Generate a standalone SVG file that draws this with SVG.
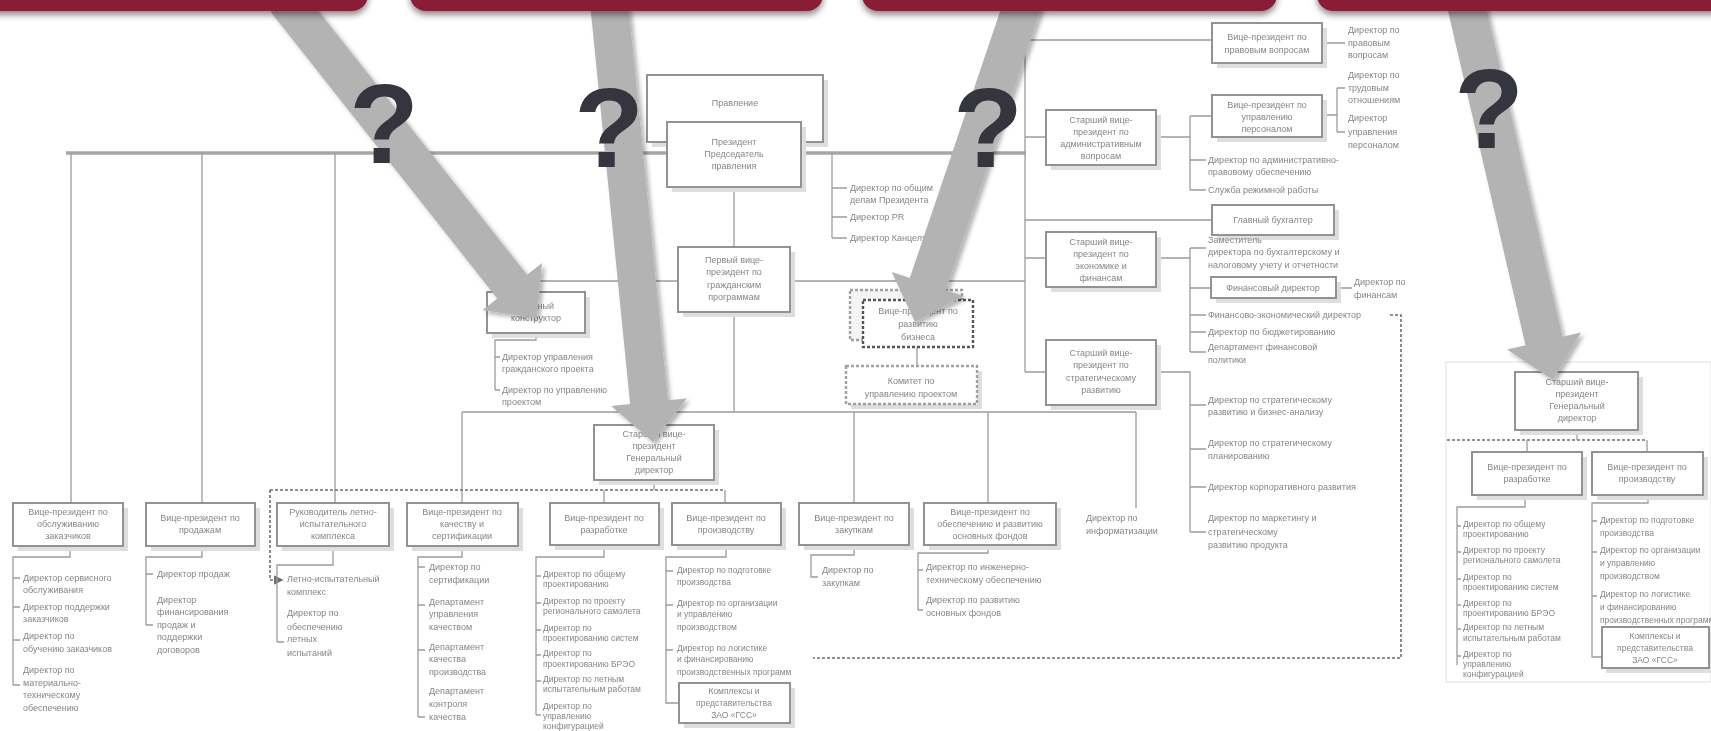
<svg xmlns="http://www.w3.org/2000/svg" width="1711" height="731" viewBox="0 0 1711 731">
<defs>
<style>
.ln{stroke:#9c9c9c;stroke-width:1.3;fill:none}
.thick{stroke:#a6a6a6;stroke-width:3.5;fill:none}
.dash{stroke:#6e6e6e;stroke-width:1.6;stroke-dasharray:3 2;fill:none}
.bx{fill:#fff;stroke:#8e8e8e;stroke-width:1.9}
.bxd{fill:#fff;stroke:#555;stroke-width:2.4;stroke-dasharray:3 2}
.bxd2{fill:#f4f4f4;stroke:#a0a0a0;stroke-width:2.4;stroke-dasharray:3 2}
.sh{fill:#dedede}
.t{font-family:"Liberation Sans",Arial,sans-serif;font-size:9px;fill:#868686}
.s{font-size:8.5px}
.c{text-anchor:middle}
.q{font-family:"Liberation Sans",Arial,sans-serif;font-weight:bold;font-size:114px;fill:#34353f;text-anchor:middle}
.arr{fill:#b3b3b3}
.ban{fill:#8b1a36}
</style>
<filter id="soft" x="-2%" y="-2%" width="104%" height="104%"><feGaussianBlur stdDeviation="0.6"/></filter>
<filter id="ash" x="-20%" y="-20%" width="140%" height="140%"><feDropShadow dx="3" dy="3" stdDeviation="2" flood-color="#000" flood-opacity="0.3"/></filter>
<filter id="bsh" x="-5%" y="-50%" width="110%" height="200%"><feDropShadow dx="0" dy="4" stdDeviation="3" flood-color="#000" flood-opacity="0.45"/></filter>
<marker id="ah" markerWidth="6" markerHeight="6" refX="5" refY="3" orient="auto"><path d="M0,0 L6,3 L0,6 z" fill="#6e6e6e"/></marker>
</defs>
<rect width="1711" height="731" fill="#fff"/>

<g id="chart" filter="url(#soft)">
<g id="connectors">
<path class="thick" d="M66,153 H1026"/>
<path class="ln" d="M71,153 V503 M202,153 V503 M335,153 V503"/>
<path class="ln" d="M734,187 V247 M734,312 V412"/>
<path class="ln" d="M462,412 H1136 M462,412 V503 M654,412 V425 M854,412 V503 M988,412 V503 M1136,412 V508"/>
<path class="ln" d="M536,292 V281 H1025"/>
<path class="ln" d="M917,281 V300 M917,347 V366"/>
<path class="ln" d="M536,333 V340 H495 V390 M495,357 H500 M495,390 H500"/>
<path class="ln" d="M832,153 V238 M832,188 H847 M832,217 H847 M832,238 H847"/>
<path class="ln" d="M1025,40 V372 M1025,40 H1212 M1025,137 H1046 M1025,220 H1212 M1025,258 H1046 M1025,372 H1046"/>
<path class="ln" d="M1156,137 H1190 M1190,116 V190 M1190,116 H1212 M1190,160 H1206 M1190,190 H1206"/>
<path class="ln" d="M1322,43 H1345 M1322,115 H1337 M1337,88 V132 M1337,88 H1345 M1337,132 H1345"/>
<path class="ln" d="M1156,258 H1190 M1190,248 V352 M1190,248 H1206 M1190,288 H1211 M1190,315 H1206 M1190,332 H1206 M1190,352 H1206 M1336,288 H1352"/>
<path class="ln" d="M1156,372 H1190 V532 M1190,405 H1206 M1190,449 H1206 M1190,487 H1206 M1190,532 H1206"/>
<path class="dash" d="M1390,315 H1401 V658 H813"/>
<path class="dash" d="M270,490 H725"/>
<path class="dash" d="M270,490 V580 H282" marker-end="url(#ah)"/>
<path class="ln" d="M654,480 V490 M604,490 V503 M725,490 V503"/>
<path class="ln" d="M70,546 V557 H13 V685 M13,578 H20 M13,607 H20 M13,640 H20 M13,685 H20"/>
<path class="ln" d="M202,546 V557 H146 V625 M146,574 H153 M146,625 H153"/>
<path class="ln" d="M333,546 V565 H277 V642 M277,642 H284"/>
<path class="ln" d="M462,546 V557 H418 V717 M418,567 H425 M418,605 H425 M418,650 H425 M418,717 H425"/>
<path class="ln" d="M604,546 V557 H536 V715 M536,576 H541 M536,603 H541 M536,630 H541 M536,655 H541 M536,681 H541 M536,715 H541"/>
<path class="ln" d="M726,546 V557 H666 V703 H679 M666,571 H673 M666,605 H673 M666,650 H673"/>
<path class="ln" d="M854,546 V555 H811 V577 H818"/>
<path class="ln" d="M988,546 V553 H918 V610 M918,570 H923 M918,610 H923"/>
<path class="dash" d="M1447,440 H1647"/>
<path class="ln" d="M1577,430 V440 M1527,440 V452 M1647,440 V452"/>
<path class="ln" d="M1525,495 V507 H1457 V665 M1457,526 H1461 M1457,552 H1461 M1457,579 H1461 M1457,605 H1461 M1457,629 H1461 M1457,656 H1461"/>
<path class="ln" d="M1648,495 V503 H1592 V657 H1602 M1592,521 H1597 M1592,552 H1597 M1592,596 H1597"/>
</g>

<g id="n-pravlenie"><rect class="sh" x="652" y="80" width="176" height="67"/><rect class="bx" x="647" y="75" width="176" height="67"/><text class="t c" x="735" y="106">Правление</text></g>
<g id="n-president"><rect class="sh" x="672" y="127" width="134" height="65"/><rect class="bx" x="667" y="122" width="134" height="65"/><text class="t c"><tspan x="734" y="145">Президент</tspan><tspan x="734" y="157">Председатель</tspan><tspan x="734" y="169">правления</tspan></text></g>
<g id="n-pres-staff"><text class="t"><tspan x="850" y="191">Директор по общим</tspan><tspan x="850" y="203">делам Президента</tspan><tspan x="850" y="220">Директор PR</tspan><tspan x="850" y="241">Директор Канцелярии</tspan></text></g>
<g id="n-first-vp"><rect class="sh" x="683" y="252" width="112" height="65"/><rect class="bx" x="678" y="247" width="112" height="65"/><text class="t c"><tspan x="734" y="263">Первый вице-</tspan><tspan x="734" y="275">президент по</tspan><tspan x="734" y="288">гражданским</tspan><tspan x="734" y="300">программам</tspan></text></g>
<g id="n-chief-designer"><rect class="sh" x="492" y="297" width="98" height="41"/><rect class="bx" x="487" y="292" width="98" height="41"/><text class="t c"><tspan x="536" y="309">Главный</tspan><tspan x="536" y="321">конструктор</tspan></text></g>
<g id="n-cd-staff"><text class="t"><tspan x="502" y="360">Директор управления</tspan><tspan x="502" y="372">гражданского проекта</tspan><tspan x="502" y="393">Директор по управлению</tspan><tspan x="502" y="405">проектом</tspan></text></g>
<g id="n-bizdev"><rect class="bxd2" x="850" y="290" width="112" height="50"/><rect class="bxd" x="863" y="300" width="110" height="47"/><text class="t c"><tspan x="918" y="314">Вице-президент по</tspan><tspan x="918" y="327">развитию</tspan><tspan x="918" y="340">бизнеса</tspan></text></g>
<g id="n-committee"><rect class="sh" x="851" y="371" width="131" height="38"/><rect class="bxd2" x="846" y="366" width="131" height="38" style="fill:#fff"/><text class="t c"><tspan x="911" y="384">Комитет по</tspan><tspan x="911" y="397">управлению проектом</tspan></text></g>

<g id="n-svp-admin"><rect class="sh" x="1051" y="115" width="110" height="55"/><rect class="bx" x="1046" y="110" width="110" height="55"/><text class="t c"><tspan x="1101" y="123">Старший вице-</tspan><tspan x="1101" y="135">президент по</tspan><tspan x="1101" y="147">административным</tspan><tspan x="1101" y="159">вопросам</tspan></text></g>
<g id="n-vp-legal"><rect class="sh" x="1217" y="28" width="110" height="40"/><rect class="bx" x="1212" y="23" width="110" height="40"/><text class="t c"><tspan x="1267" y="40">Вице-президент по</tspan><tspan x="1267" y="53">правовым вопросам</tspan></text></g>
<g id="n-legal-staff"><text class="t"><tspan x="1348" y="33">Директор по</tspan><tspan x="1348" y="46">правовым</tspan><tspan x="1348" y="58">вопросам</tspan></text></g>
<g id="n-vp-hr"><rect class="sh" x="1217" y="100" width="110" height="42"/><rect class="bx" x="1212" y="95" width="110" height="42"/><text class="t c"><tspan x="1267" y="108">Вице-президент по</tspan><tspan x="1267" y="120">управлению</tspan><tspan x="1267" y="132">персоналом</tspan></text></g>
<g id="n-hr-staff"><text class="t"><tspan x="1348" y="78">Директор по</tspan><tspan x="1348" y="91">трудовым</tspan><tspan x="1348" y="103">отношениям</tspan><tspan x="1348" y="121">Директор</tspan><tspan x="1348" y="135">управления</tspan><tspan x="1348" y="148">персоналом</tspan></text></g>
<g id="n-admin-staff"><text class="t"><tspan x="1208" y="163">Директор по административно-</tspan><tspan x="1208" y="175">правовому обеспечению</tspan><tspan x="1208" y="193">Служба режимной работы</tspan></text></g>
<g id="n-chief-acc"><rect class="sh" x="1217" y="210" width="122" height="30"/><rect class="bx" x="1212" y="205" width="122" height="30"/><text class="t c" x="1273" y="223">Главный бухгалтер</text></g>
<g id="n-svp-fin"><rect class="sh" x="1051" y="237" width="110" height="55"/><rect class="bx" x="1046" y="232" width="110" height="55"/><text class="t c"><tspan x="1101" y="245">Старший вице-</tspan><tspan x="1101" y="257">президент по</tspan><tspan x="1101" y="269">экономике и</tspan><tspan x="1101" y="281">финансам</tspan></text></g>
<g id="n-fin-staff"><text class="t"><tspan x="1208" y="243">Заместитель</tspan><tspan x="1208" y="255">директора по бухгалтерскому и</tspan><tspan x="1208" y="268">налоговому учету и отчетности</tspan><tspan x="1208" y="318">Финансово-экономический директор</tspan><tspan x="1208" y="335">Директор по бюджетированию</tspan><tspan x="1208" y="350">Департамент финансовой</tspan><tspan x="1208" y="363">политики</tspan></text></g>
<g id="n-cfo"><rect class="sh" x="1216" y="282" width="125" height="21"/><rect class="bx" x="1211" y="277" width="125" height="21"/><text class="t c" x="1273" y="291">Финансовый директор</text></g>
<g id="n-cfo-staff"><text class="t"><tspan x="1354" y="285">Директор по</tspan><tspan x="1354" y="298">финансам</tspan></text></g>
<g id="n-svp-strat"><rect class="sh" x="1051" y="345" width="110" height="65"/><rect class="bx" x="1046" y="340" width="110" height="65"/><text class="t c"><tspan x="1101" y="356">Старший вице-</tspan><tspan x="1101" y="368">президент по</tspan><tspan x="1101" y="381">стратегическому</tspan><tspan x="1101" y="393">развитию</tspan></text></g>
<g id="n-strat-staff"><text class="t"><tspan x="1208" y="403">Директор по стратегическому</tspan><tspan x="1208" y="415">развитию и бизнес-анализу</tspan><tspan x="1208" y="446">Директор по стратегическому</tspan><tspan x="1208" y="459">планированию</tspan><tspan x="1208" y="490">Директор корпоративного развития</tspan><tspan x="1208" y="521">Директор по маркетингу и</tspan><tspan x="1208" y="535">стратегическому</tspan><tspan x="1208" y="548">развитию продукта</tspan></text></g>
<g id="n-it"><text class="t"><tspan x="1086" y="521">Директор по</tspan><tspan x="1086" y="534">информатизации</tspan></text></g>

<g id="n-svp-gd"><rect class="sh" x="599" y="430" width="120" height="55"/><rect class="bx" x="594" y="425" width="120" height="55"/><text class="t c"><tspan x="654" y="437">Старший вице-</tspan><tspan x="654" y="449">президент</tspan><tspan x="654" y="461">Генеральный</tspan><tspan x="654" y="473">директор</tspan></text></g>

<g id="n-b1"><rect class="sh" x="18" y="508" width="110" height="43"/><rect class="bx" x="13" y="503" width="110" height="43"/><text class="t c"><tspan x="68" y="515">Вице-президент по</tspan><tspan x="68" y="527">обслуживанию</tspan><tspan x="68" y="539">заказчиков</tspan></text></g>
<g id="n-b1-staff"><text class="t"><tspan x="23" y="581">Директор сервисного</tspan><tspan x="23" y="593">обслуживания</tspan><tspan x="23" y="610">Директор поддержки</tspan><tspan x="23" y="622">заказчиков</tspan><tspan x="23" y="639">Директор по</tspan><tspan x="23" y="652">обучению заказчиков</tspan><tspan x="23" y="673">Директор по</tspan><tspan x="23" y="686">материально-</tspan><tspan x="23" y="698">техническому</tspan><tspan x="23" y="711">обеспечению</tspan></text></g>
<g id="n-b2"><rect class="sh" x="151" y="508" width="109" height="43"/><rect class="bx" x="146" y="503" width="109" height="43"/><text class="t c"><tspan x="200" y="521">Вице-президент по</tspan><tspan x="200" y="533">продажам</tspan></text></g>
<g id="n-b2-staff"><text class="t"><tspan x="157" y="577">Директор продаж</tspan><tspan x="157" y="603">Директор</tspan><tspan x="157" y="615">финансирования</tspan><tspan x="157" y="628">продаж и</tspan><tspan x="157" y="640">поддержки</tspan><tspan x="157" y="653">договоров</tspan></text></g>
<g id="n-b3"><rect class="sh" x="282" y="508" width="112" height="43"/><rect class="bx" x="277" y="503" width="112" height="43"/><text class="t c"><tspan x="333" y="515">Руководитель летно-</tspan><tspan x="333" y="527">испытательного</tspan><tspan x="333" y="539">комплекса</tspan></text></g>
<g id="n-b3-staff"><text class="t"><tspan x="287" y="582">Летно-испытательный</tspan><tspan x="287" y="595">комплекс</tspan><tspan x="287" y="616">Директор по</tspan><tspan x="287" y="630">обеспечению</tspan><tspan x="287" y="642">летных</tspan><tspan x="287" y="656">испытаний</tspan></text></g>
<g id="n-b4"><rect class="sh" x="412" y="508" width="111" height="43"/><rect class="bx" x="407" y="503" width="111" height="43"/><text class="t c"><tspan x="462" y="515">Вице-президент по</tspan><tspan x="462" y="527">качеству и</tspan><tspan x="462" y="539">сертификации</tspan></text></g>
<g id="n-b4-staff"><text class="t"><tspan x="429" y="570">Директор по</tspan><tspan x="429" y="583">сертификации</tspan><tspan x="429" y="605">Департамент</tspan><tspan x="429" y="617">управления</tspan><tspan x="429" y="630">качеством</tspan><tspan x="429" y="650">Департамент</tspan><tspan x="429" y="662">качества</tspan><tspan x="429" y="675">производства</tspan><tspan x="429" y="694">Департамент</tspan><tspan x="429" y="707">контроля</tspan><tspan x="429" y="720">качества</tspan></text></g>
<g id="n-b5"><rect class="sh" x="555" y="508" width="109" height="42"/><rect class="bx" x="550" y="503" width="109" height="42"/><text class="t c"><tspan x="604" y="521">Вице-президент по</tspan><tspan x="604" y="533">разработке</tspan></text></g>
<g id="n-b5-staff"><text class="t s"><tspan x="543" y="577">Директор по общему</tspan><tspan x="543" y="587">проектированию</tspan><tspan x="543" y="604">Директор по проекту</tspan><tspan x="543" y="614">регионального самолета</tspan><tspan x="543" y="631">Директор по</tspan><tspan x="543" y="641">проектированию систем</tspan><tspan x="543" y="656">Директор по</tspan><tspan x="543" y="667">проектированию БРЭО</tspan><tspan x="543" y="682">Директор по летным</tspan><tspan x="543" y="692">испытательным работам</tspan><tspan x="543" y="709">Директор по</tspan><tspan x="543" y="719">управлению</tspan><tspan x="543" y="729">конфигурацией</tspan></text></g>
<g id="n-b6"><rect class="sh" x="677" y="508" width="109" height="42"/><rect class="bx" x="672" y="503" width="109" height="42"/><text class="t c"><tspan x="726" y="521">Вице-президент по</tspan><tspan x="726" y="533">производству</tspan></text></g>
<g id="n-b6-staff"><text class="t s"><tspan x="677" y="573">Директор по подготовке</tspan><tspan x="677" y="585">производства</tspan><tspan x="677" y="606">Директор по организации</tspan><tspan x="677" y="617">и управлению</tspan><tspan x="677" y="630">производством</tspan><tspan x="677" y="651">Директор по логистике</tspan><tspan x="677" y="662">и финансированию</tspan><tspan x="677" y="675">производственных программ</tspan></text></g>
<g id="n-b6-complex"><rect class="sh" x="684" y="688" width="111" height="40"/><rect class="bx" x="679" y="683" width="111" height="40"/><text class="t c s"><tspan x="734" y="694">Комплексы и</tspan><tspan x="734" y="706">представительства</tspan><tspan x="734" y="718">ЗАО «ГСС»</tspan></text></g>
<g id="n-b7"><rect class="sh" x="804" y="508" width="110" height="42"/><rect class="bx" x="799" y="503" width="110" height="42"/><text class="t c"><tspan x="854" y="521">Вице-президент по</tspan><tspan x="854" y="533">закупкам</tspan></text></g>
<g id="n-b7-staff"><text class="t"><tspan x="822" y="573">Директор по</tspan><tspan x="822" y="586">закупкам</tspan></text></g>
<g id="n-b8"><rect class="sh" x="929" y="508" width="132" height="42"/><rect class="bx" x="924" y="503" width="132" height="42"/><text class="t c"><tspan x="990" y="515">Вице-президент по</tspan><tspan x="990" y="527">обеспечению и развитию</tspan><tspan x="990" y="539">основных фондов</tspan></text></g>
<g id="n-b8-staff"><text class="t"><tspan x="926" y="570">Директор по инженерно-</tspan><tspan x="926" y="583">техническому обеспечению</tspan><tspan x="926" y="603">Директор по развитию</tspan><tspan x="926" y="616">основных фондов</tspan></text></g>

<g id="n-panel"><rect x="1446" y="362" width="265" height="320" fill="none" stroke="#eeeeee" stroke-width="2"/></g>
<g id="n-p-gd"><rect class="sh" x="1520" y="377" width="123" height="58"/><rect class="bx" x="1515" y="372" width="123" height="58"/><text class="t c"><tspan x="1577" y="385">Старший вице-</tspan><tspan x="1577" y="397">президент</tspan><tspan x="1577" y="409">Генеральный</tspan><tspan x="1577" y="421">директор</tspan></text></g>
<g id="n-p-dev"><rect class="sh" x="1477" y="457" width="110" height="43"/><rect class="bx" x="1472" y="452" width="110" height="43"/><text class="t c"><tspan x="1527" y="470">Вице-президент по</tspan><tspan x="1527" y="482">разработке</tspan></text></g>
<g id="n-p-prod"><rect class="sh" x="1597" y="457" width="111" height="43"/><rect class="bx" x="1592" y="452" width="111" height="43"/><text class="t c"><tspan x="1647" y="470">Вице-президент по</tspan><tspan x="1647" y="482">производству</tspan></text></g>
<g id="n-p-dev-staff"><text class="t s"><tspan x="1463" y="527">Директор по общему</tspan><tspan x="1463" y="537">проектированию</tspan><tspan x="1463" y="553">Директор по проекту</tspan><tspan x="1463" y="563">регионального самолета</tspan><tspan x="1463" y="580">Директор по</tspan><tspan x="1463" y="590">проектированию систем</tspan><tspan x="1463" y="606">Директор по</tspan><tspan x="1463" y="616">проектированию БРЭО</tspan><tspan x="1463" y="630">Директор по летным</tspan><tspan x="1463" y="641">испытательным работам</tspan><tspan x="1463" y="657">Директор по</tspan><tspan x="1463" y="667">управлению</tspan><tspan x="1463" y="677">конфигурацией</tspan></text></g>
<g id="n-p-prod-staff"><text class="t s"><tspan x="1600" y="523">Директор по подготовке</tspan><tspan x="1600" y="536">производства</tspan><tspan x="1600" y="553">Директор по организации</tspan><tspan x="1600" y="566">и управлению</tspan><tspan x="1600" y="579">производством</tspan><tspan x="1600" y="597">Директор по логистике</tspan><tspan x="1600" y="610">и финансированию</tspan><tspan x="1600" y="623">производственных программ</tspan></text></g>
<g id="n-p-complex"><rect class="sh" x="1606" y="632" width="105" height="41"/><rect class="bx" x="1602" y="627" width="107" height="41"/><text class="t c s"><tspan x="1655" y="639">Комплексы и</tspan><tspan x="1655" y="651">представительства</tspan><tspan x="1655" y="663">ЗАО «ГСС»</tspan></text></g>
</g>

<g id="arrows" filter="url(#ash)">
<polygon class="arr" points="300.4,-11.8 527.1,274.8 542,263 537,318 482.4,310.2 497.3,298.4 270.6,11.8"/>
<polygon class="arr" points="627.7,-1.9 667.9,400.3 686.8,398.4 653,442 611.2,406 630.1,404.1 589.9,1.9"/>
<polygon class="arr" points="1042,6.1 945.8,290.2 963.8,296.3 915,322 891.8,271.9 909.8,278 1006,-6.1"/>
<polygon class="arr" points="1483.5,-4.3 1562.5,336.7 1581,332.4 1553,380 1507,349.6 1525.5,345.3 1446.5,4.3"/>
</g>

<g id="marks">
<text class="q" x="384" y="163">?</text>
<text class="q" x="609" y="167">?</text>
<text class="q" x="988" y="167">?</text>
<text class="q" x="1489" y="148">?</text>
</g>

<g id="banners" filter="url(#bsh)">
<rect class="ban" x="-30" y="-40" width="398" height="51" rx="16"/>
<rect class="ban" x="410" y="-40" width="413" height="51" rx="16"/>
<rect class="ban" x="862" y="-40" width="415" height="51" rx="16"/>
<rect class="ban" x="1317" y="-40" width="424" height="51" rx="16"/>
</g>
</svg>
